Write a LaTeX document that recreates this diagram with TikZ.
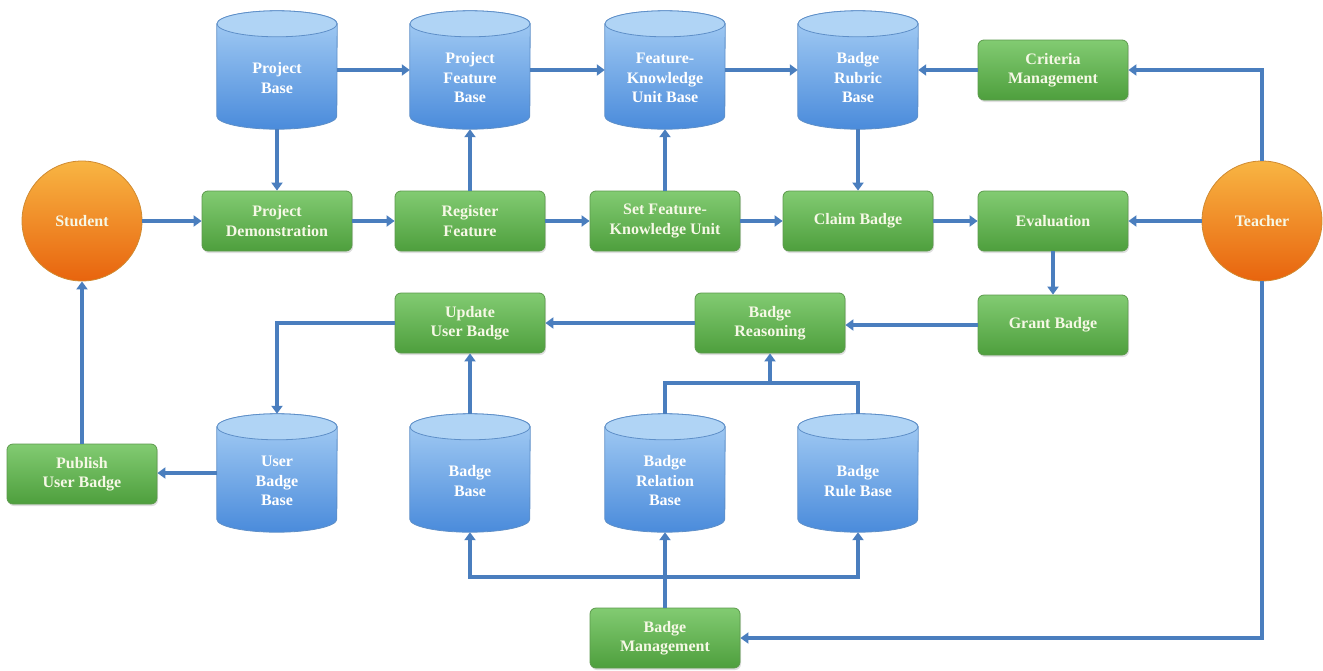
\documentclass[tikz,border=0pt]{standalone}
\usepackage{fontspec}
\setmainfont{Liberation Serif}
\usetikzlibrary{arrows.meta,calc,shadows}
\definecolor{arr}{HTML}{4A7EBE}
\definecolor{gtop}{HTML}{82CB72}
\definecolor{gbot}{HTML}{4E9F3D}
\definecolor{gdraw}{HTML}{5C9A4C}
\definecolor{btop}{HTML}{A8CFF5}
\definecolor{bbot}{HTML}{4A8BDB}
\definecolor{bdraw}{HTML}{5E8FC8}
\definecolor{bend}{HTML}{B0D4F5}
\definecolor{otop}{HTML}{F8B543}
\definecolor{obot}{HTML}{E8640E}
\definecolor{odraw}{HTML}{D08A30}
\definecolor{txt}{HTML}{F6F8E6}
\tikzset{
  lbl/.style={font=\bfseries\fontsize{16}{19.5}\selectfont, align=center},
  proc/.style={lbl, rectangle, rounded corners=6pt, minimum width=150pt, minimum height=60pt,
    top color=gtop, bottom color=gbot, draw=gdraw, line width=0.8pt, text=txt,
    drop shadow={shadow xshift=1pt, shadow yshift=-2pt, opacity=0.25}},
  actor/.style={lbl, circle, minimum size=120pt, inner sep=0pt, top color=otop, bottom color=obot,
    draw=odraw, line width=0.8pt, text=txt},
  cylnode/.style={rectangle, minimum width=120pt, minimum height=118pt, inner sep=0pt},
  cyltext/.style={lbl, text=white},
  conn/.style={draw=arr, line width=3.2pt},
  arrow/.style={conn, -{Triangle[width=11pt,length=8pt]}},
}
\newcommand\dbcyl[4]{%
  \node[cylnode] (#1) at (#2,#3) {};
  \shade[top color=btop, bottom color=bbot, draw=bdraw, line width=0.8pt]
    ([yshift=-13pt]#1.north west) -- ([yshift=13pt]#1.south west)
    arc[start angle=180, end angle=360, x radius=60pt, y radius=13pt]
    -- ([yshift=-13pt]#1.north east)
    arc[start angle=0, end angle=180, x radius=60pt, y radius=13pt] -- cycle;
  \filldraw[fill=bend, draw=bdraw, line width=0.8pt] ([yshift=-13pt]#1.north) ellipse[x radius=60pt, y radius=13pt];
  \node[cyltext] at ([yshift=-8pt]#1.center) {#4};
}
\begin{document}
\begin{tikzpicture}[x=1pt,y=-1pt]
\useasboundingbox (0,0) rectangle (1323,670);
% actors
\node[actor] (st) at (82,221) {Student};
\node[actor] (te) at (1262,221) {Teacher};
% top cylinders
\dbcyl{pb}{277}{70}{Project\\Base}
\dbcyl{pfb}{470}{70}{Project\\Feature\\Base}
\dbcyl{fkb}{665}{70}{Feature-\\Knowledge\\Unit Base}
\dbcyl{brb}{858}{70}{Badge\\Rubric\\Base}
% bottom cylinders
\dbcyl{ubb}{277}{473}{User\\Badge\\Base}
\dbcyl{bb}{470}{473}{Badge\\Base}
\dbcyl{brel}{665}{473}{Badge\\Relation\\Base}
\dbcyl{brule}{858}{473}{Badge\\Rule Base}
% processes
\node[proc] (cm) at (1053,70) {Criteria\\Management};
\node[proc] (pd) at (277,221) {Project\\Demonstration};
\node[proc] (rf) at (470,221) {Register\\Feature};
\node[proc] (sfk) at (665,221) {Set Feature-\\Knowledge Unit};
\node[proc] (cb) at (858,221) {Claim Badge};
\node[proc] (ev) at (1053,221) {Evaluation};
\node[proc] (gb) at (1053,325) {Grant Badge};
\node[proc] (br) at (770,323) {Badge\\Reasoning};
\node[proc] (uub) at (470,323) {Update\\User Badge};
\node[proc] (pub) at (82,474) {Publish\\User Badge};
\node[proc] (bm) at (665,638) {Badge\\Management};
\coordinate (jr) at (770,383);
\coordinate (bus) at (665,577);
% connectors: top row
\draw[arrow] (pb.east) -- (pfb.west);
\draw[arrow] (pfb.east) -- (fkb.west);
\draw[arrow] (fkb.east) -- (brb.west);
\draw[arrow] (cm.west) -- (brb.east);
\draw[arrow] (te.north) |- (cm.east);
% verticals top
\draw[arrow] (pb.south) -- (pd.north);
\draw[arrow] (rf.north) -- (pfb.south);
\draw[arrow] (sfk.north) -- (fkb.south);
\draw[arrow] (brb.south) -- (cb.north);
% middle row
\draw[arrow] (st.east) -- (pd.west);
\draw[arrow] (pd.east) -- (rf.west);
\draw[arrow] (rf.east) -- (sfk.west);
\draw[arrow] (sfk.east) -- (cb.west);
\draw[arrow] (cb.east) -- (ev.west);
\draw[arrow] (te.west) -- (ev.east);
% lower
\draw[arrow] (ev.south) -- (gb.north);
\draw[arrow] (gb.west) -- (gb.west -| br.east);
\draw[arrow] (br.west) -- (br.west -| uub.east);
\draw[arrow] (uub.west) -| (ubb.north);
\draw[arrow] (bb.north) -- (uub.south);
\draw[arrow] (ubb.west) -- (ubb.west -| pub.east);
\draw[arrow] (pub.north) -- (st.south);
\draw[conn] (brel.north) |- (jr) -| (brule.north);
\draw[arrow] (jr) -- (br.south);
% badge management
\draw[arrow] (bm.north) -- (brel.south);
\draw[arrow] (bus) -| (bb.south);
\draw[arrow] (bus) -| (brule.south);
\draw[arrow] (te.south) |- (bm.east);
\end{tikzpicture}
\end{document}
